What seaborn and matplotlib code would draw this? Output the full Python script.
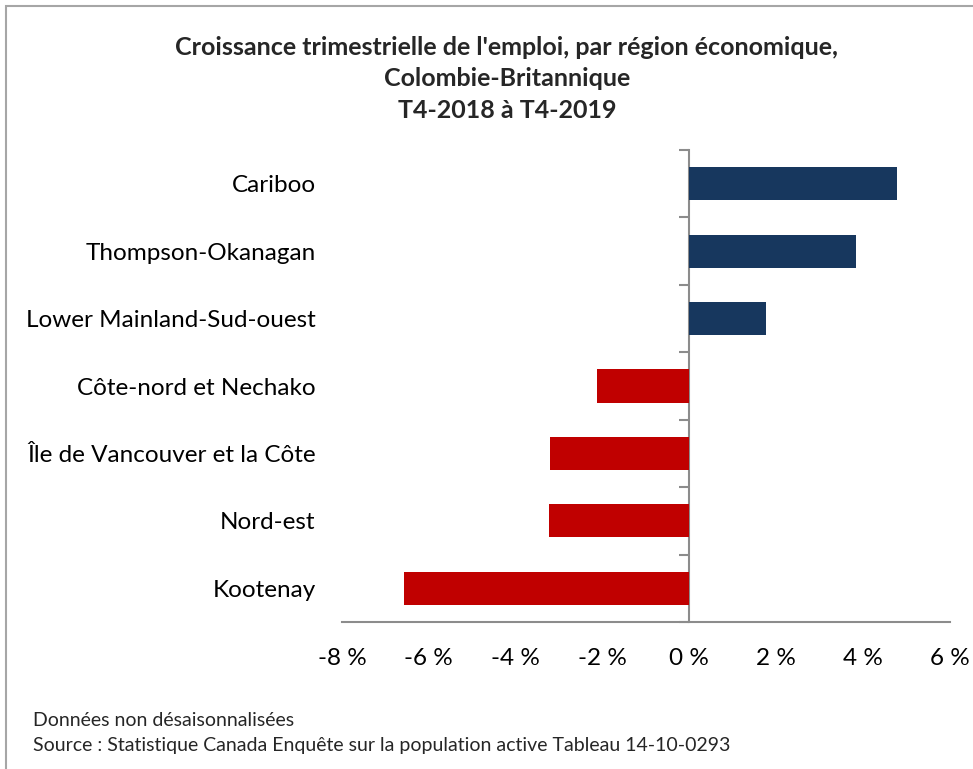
import numpy as np
import pandas as pd
import matplotlib
matplotlib.use("Agg")
import matplotlib.pyplot as plt
import matplotlib.patches as mpatches
import seaborn as sns

# values (% change, Q4-2018 to Q4-2019)
regions = [
    "Cariboo",
    "Thompson-Okanagan",
    "Lower Mainland-Sud-ouest",
    "Côte-nord et Nechako",
    "Île de Vancouver et la Côte",
    "Nord-est",
    "Kootenay",
]
growth = [4.79, 3.83, 1.76, -2.12, -3.22, -3.24, -6.57]
x_ticks = [-8, -6, -4, -2, 0, 2, 4, 6]
x_tick_labels = ["-8 %", "-6 %", "-4 %", "-2 %", "0 %", "2 %", "4 %", "6 %"]

title = ("Croissance trimestrielle de l'emploi, par région économique,\n"
         "Colombie-Britannique\nT4-2018 à T4-2019")
notes = ["Données non désaisonnalisées",
         "Source : Statistique Canada Enquête sur la population active Tableau 14-10-0293"]

POS = "#17375E"
NEG = "#C00000"
AXIS = "#8C8C8C"

sns.set_theme(style="white")
plt.rcParams["font.family"] = ["Lato", "DejaVu Sans"]

df = pd.DataFrame({"region": regions, "growth": growth})
palette = [POS if v >= 0 else NEG for v in growth]

fig = plt.figure(figsize=(9.73, 7.69), dpi=100)
ax = fig.add_axes([342 / 973, 1 - 622 / 769, 608 / 973, 472 / 769])

sns.barplot(data=df, x="growth", y="region", hue="region", palette=palette,
            order=regions, orient="h", width=0.49, legend=False, ax=ax,
            saturation=1, edgecolor="none")

ax.set_xlim(-8, 6)
ax.set_ylim(len(regions) - 0.5, -0.5)
ax.set_xlabel("")
ax.set_ylabel("")

# x axis
ax.set_xticks(x_ticks)
ax.set_xticklabels(x_tick_labels, fontsize=17.5, color="black")
ax.tick_params(axis="x", length=7, width=1.5, color=AXIS, direction="out", pad=12)
ax.spines["bottom"].set_color(AXIS)
ax.spines["bottom"].set_linewidth(1.5)
for s in ["top", "right", "left"]:
    ax.spines[s].set_visible(False)

# category labels stay on the left, no tick marks
ax.tick_params(axis="y", length=0, labelsize=17.5, labelcolor="black", pad=19)

# vertical axis at 0 with boundary ticks (Excel style)
zero_pos = (0 - (-8)) / (6 - (-8))
sec = ax.secondary_yaxis(zero_pos)
sec.set_yticks(np.arange(len(regions) + 1) - 0.5)
sec.set_yticklabels([])
sec.tick_params(axis="y", length=7, width=1.5, color=AXIS, direction="in")
for s in sec.spines.values():
    s.set_color(AXIS)
    s.set_linewidth(1.5)

fig.text(0.521, 1 - 79 / 769, title, ha="center", va="center",
         fontsize=18, fontweight="bold", linespacing=1.45)

fig.text(33 / 973, 1 - 720 / 769, notes[0], ha="left", va="center", fontsize=14)
fig.text(33 / 973, 1 - 746 / 769, notes[1], ha="left", va="center", fontsize=14)

# outer chart frame
frame = mpatches.Rectangle((6 / 973, -0.05), 1.1, 1 - 6 / 769 + 0.05,
                           transform=fig.transFigure, fill=False,
                           edgecolor="#A6A6A6", linewidth=1.5)
fig.patches.append(frame)

fig.savefig("out.png", dpi=100)
plt.close(fig)
